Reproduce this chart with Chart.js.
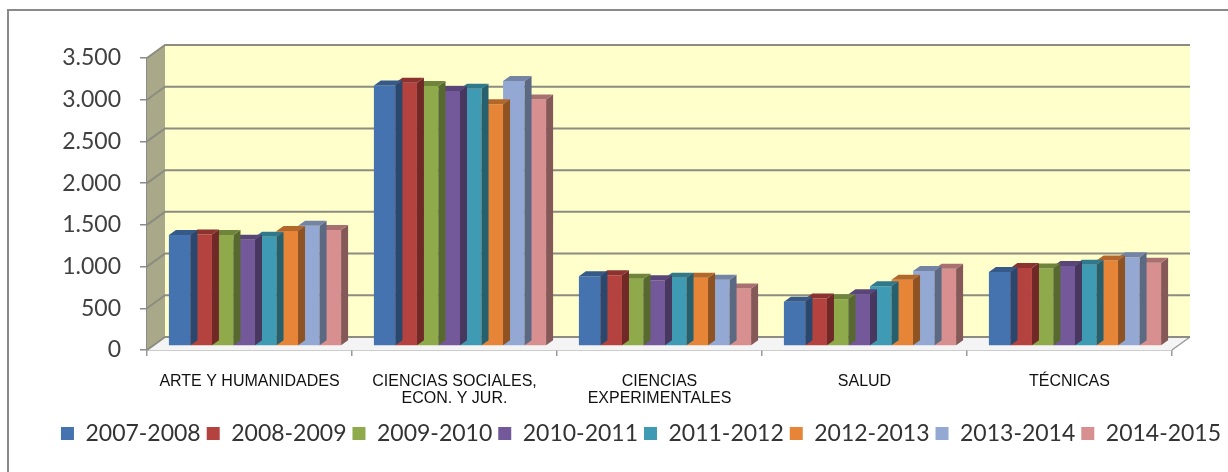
<!DOCTYPE html>
<html>
<head>
<meta charset="utf-8">
<script src="https://cdn.jsdelivr.net/npm/chart.js@4.4.1/dist/chart.umd.min.js"></script>
<style>
  html, body { margin: 0; padding: 0; background: #fff; }
  #wrap { width: 1228px; height: 472px; }
</style>
</head>
<body>
<div id="wrap"><canvas id="chart" width="1228" height="472"></canvas></div>
<script>
// ---------------------------------------------------------------------------
// DATOS
// ---------------------------------------------------------------------------
const categories = [
    'ARTE Y HUMANIDADES',
    ['CIENCIAS SOCIALES,', 'ECON. Y JUR.'],
    ['CIENCIAS', 'EXPERIMENTALES'],
    'SALUD',
    'TÉCNICAS'
];

const seriesLabels = ['2007-2008', '2008-2009', '2009-2010', '2010-2011',
                      '2011-2012', '2012-2013', '2013-2014', '2014-2015'];

const curso0708 = [1330, 3123, 836, 530, 887];
const curso0809 = [1337, 3155, 848, 569, 935];
const curso0910 = [1330, 3115, 807, 560, 929];
const curso1011 = [1275, 3056, 788, 621, 958];
const curso1112 = [1310, 3083, 819, 717, 974];
const curso1213 = [1377, 2897, 819, 795, 1026];
const curso1314 = [1440, 3175, 795, 899, 1065];
const curso1415 = [1390, 2956, 688, 926, 998];

const yTicks = [0, 500, 1000, 1500, 2000, 2500, 3000, 3500];

// colores tipo Excel 2007
const colors = ['#4473B0', '#B4423F', '#8EAA4B', '#74599A',
                '#3E9BB3', '#E68437', '#93A9D4', '#D88F8F'];

// ---------------------------------------------------------------------------
// UTILIDADES
// ---------------------------------------------------------------------------
function shade(hex, f) {
    const n = parseInt(hex.slice(1), 16);
    const r = Math.round(((n >> 16) & 255) * f);
    const g = Math.round(((n >> 8) & 255) * f);
    const b = Math.round((n & 255) * f);
    return `rgb(${r},${g},${b})`;
}

function formatMiles(v) {
    if (v < 1000) return String(v);
    return Math.floor(v / 1000) + '.' + String(v % 1000).padStart(3, '0');
}

// profundidad del "3D"
const WALL_DX = 18, WALL_DY = 13;
const BAR_DX = 7, BAR_DY = 5;
// las barras van un poco hacia el fondo (a ~1/3 de la profundidad)
const BAR_SHIFT_X = 5.5, BAR_SHIFT_Y = -4;

// ---------------------------------------------------------------------------
// PLUGINS: marco, paredes, suelo, caras 3D de las barras
// ---------------------------------------------------------------------------
const framePlugin = {
    id: 'frame',
    beforeDraw(chart) {
        const c = chart.ctx;
        c.save();
        c.strokeStyle = '#8a8a8a';
        c.lineWidth = 2;
        c.strokeRect(8, 10, 1400, 1400);
        c.restore();
    }
};

const wallsPlugin = {
    id: 'walls',
    beforeDatasetsDraw(chart) {
        const c = chart.ctx;
        const a = chart.chartArea;
        const y = chart.scales.y;
        c.save();

        // pared del fondo
        c.fillStyle = '#FFFFCC';
        c.fillRect(a.left + WALL_DX, a.top - WALL_DY, a.right - a.left, a.bottom - a.top);

        // pared lateral
        c.fillStyle = '#A9A98A';
        c.beginPath();
        c.moveTo(a.left, a.top);
        c.lineTo(a.left + WALL_DX, a.top - WALL_DY);
        c.lineTo(a.left + WALL_DX, a.bottom - WALL_DY);
        c.lineTo(a.left, a.bottom);
        c.closePath();
        c.fill();

        // suelo
        c.fillStyle = '#F4F4F4';
        c.beginPath();
        c.moveTo(a.left, a.bottom);
        c.lineTo(a.right, a.bottom);
        c.lineTo(a.right + WALL_DX, a.bottom - WALL_DY);
        c.lineTo(a.left + WALL_DX, a.bottom - WALL_DY);
        c.closePath();
        c.fill();
        c.strokeStyle = '#9a9a9a';
        c.lineWidth = 1.5;
        c.beginPath();
        c.moveTo(a.right, a.bottom);
        c.lineTo(a.right + WALL_DX, a.bottom - WALL_DY);
        c.stroke();

        // lineas de division
        c.strokeStyle = '#8C8C80';
        c.lineWidth = 2;
        for (const v of yTicks) {
            const py = y.getPixelForValue(v);
            c.beginPath();
            c.moveTo(a.left, py);
            c.lineTo(a.left + WALL_DX, py - WALL_DY);
            c.lineTo(a.right + WALL_DX, py - WALL_DY);
            c.stroke();
        }
        c.restore();
    },
    beforeDatasetDraw(chart) {
        chart.ctx.save();
        chart.ctx.translate(BAR_SHIFT_X, BAR_SHIFT_Y);
    },
    afterDatasetDraw(chart, args) {
        const c = chart.ctx;
        const col = colors[args.index];
        const meta = args.meta;
        for (const bar of meta.data) {
            const w = bar.width;
            const l = bar.x - w / 2, r = bar.x + w / 2;
            const t = bar.y, b = bar.base;
            // cara lateral
            c.fillStyle = shade(col, 0.62);
            c.beginPath();
            c.moveTo(r, t);
            c.lineTo(r + BAR_DX, t - BAR_DY);
            c.lineTo(r + BAR_DX, b - BAR_DY);
            c.lineTo(r, b);
            c.closePath();
            c.fill();
            // cara superior
            c.fillStyle = shade(col, 0.78);
            c.beginPath();
            c.moveTo(l, t);
            c.lineTo(l + BAR_DX, t - BAR_DY);
            c.lineTo(r + BAR_DX, t - BAR_DY);
            c.lineTo(r, t);
            c.closePath();
            c.fill();
        }
        c.restore();
    }
};

// ---------------------------------------------------------------------------
// GRÁFICO
// ---------------------------------------------------------------------------
const seriesData = [curso0708, curso0809, curso0910, curso1011,
                    curso1112, curso1213, curso1314, curso1415];

const ctx = document.getElementById('chart').getContext('2d');

new Chart(ctx, {
    type: 'bar',
    data: {
        labels: categories,
        datasets: seriesLabels.map((lbl, i) => ({
            label: lbl,
            data: seriesData[i],
            yAxisID: 'y',
            backgroundColor: colors[i],
            borderWidth: 0,
            categoryPercentage: 0.84,
            barPercentage: 1.0
        }))
    },
    options: {
        responsive: false,
        animation: false,
        layout: { padding: { left: 54, right: 0, top: 58, bottom: 17 } },
        plugins: {
            tooltip: { enabled: false },
            legend: {
                position: 'bottom',
                labels: {
                    font: { family: 'Lato', size: 23 },
                    color: '#333333',
                    boxWidth: 13,
                    boxHeight: 13,
                    padding: 6
                }
            }
        },
        scales: {
            x: {
                grid: {
                    display: true,
                    drawOnChartArea: false,
                    tickLength: 6,
                    color: '#9a9a9a',
                    lineWidth: 1.5,
                    offset: true
                },
                border: { color: '#9a9a9a', width: 1.5 },
                ticks: {
                    font: { family: 'Liberation Sans', size: 16, lineHeight: 1.05 },
                    color: '#111111',
                    padding: 17,
                    maxRotation: 0,
                    autoSkip: false
                },
                afterFit(scale) { scale.height = 66; }
            },
            y: {
                position: 'left',
                min: 0,
                max: 3500,
                grid: {
                    drawOnChartArea: false,
                    tickLength: 7,
                    color: '#8a8a8a',
                    lineWidth: 1.5
                },
                border: { color: '#8a8a8a', width: 1.5 },
                ticks: {
                    stepSize: 500,
                    font: { family: 'Lato', size: 23 },
                    color: '#404040',
                    padding: 19,
                    callback: v => formatMiles(v)
                },
                afterFit(scale) { scale.width = 93; }
            },
            // eje vacío a la derecha: solo reserva el hueco del fondo 3D
            yRight: {
                position: 'right',
                min: 0,
                max: 3500,
                grid: { display: false },
                border: { display: false },
                ticks: { display: false },
                afterFit(scale) { scale.width = 56; }
            }
        }
    },
    plugins: [framePlugin, wallsPlugin]
});
</script>
</body>
</html>
